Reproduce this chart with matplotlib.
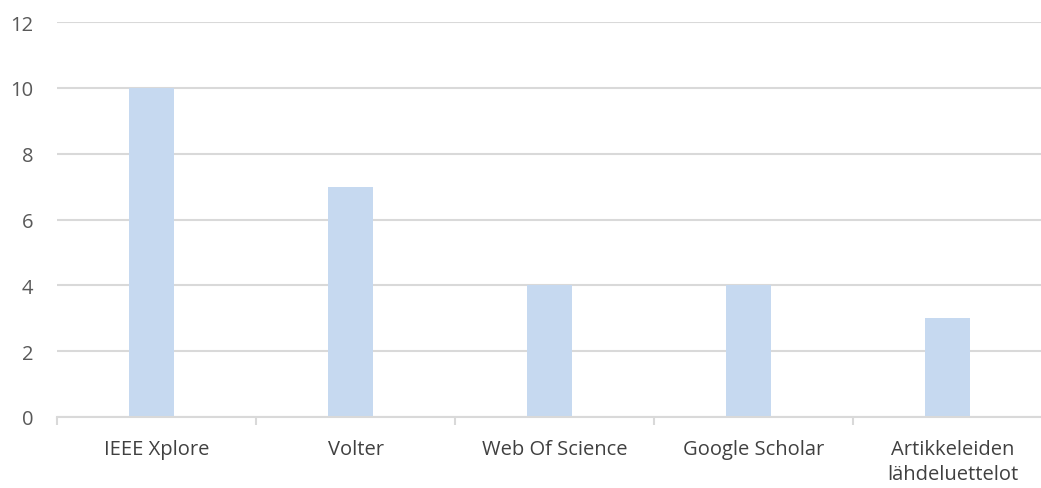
import matplotlib.pyplot as plt
import numpy as np

# categories and counts
categories = ['IEEE Xplore', 'Volter', 'Web Of Science', 'Google Scholar',
              'Artikkeleiden\nlähdeluettelot']
counts = [10, 7, 4, 4, 3]
yticks = [0, 2, 4, 6, 8, 10, 12]

plt.rcParams['font.family'] = ['Open Sans', 'DejaVu Sans']

fig = plt.figure(figsize=(10.41, 4.89), dpi=100)
# right edge runs a bit past the figure, like the cropped original
ax = fig.add_axes([57/1041, 1 - 418/489, 995/1041, (418 - 23)/489])

x = np.arange(len(categories))
# bars sit slightly left of the category centre in the original
ax.bar(x - 0.025, counts, width=0.228, color='#C6D9F0', zorder=2)

ax.set_xlim(-0.5, len(categories) - 0.5)
ax.set_ylim(0, 12)
ax.set_yticks(yticks)
ax.yaxis.grid(True, color='#D9D9D9', linewidth=1.5, zorder=0)
ax.set_axisbelow(True)

for s in ['top', 'right', 'left']:
    ax.spines[s].set_visible(False)
ax.spines['bottom'].set_color('#D9D9D9')
ax.spines['bottom'].set_linewidth(1.5)

# category boundaries get the tick marks, labels sit in the middle
ax.set_xticks(np.arange(len(categories) + 1) - 0.5)
ax.set_xticklabels([])
ax.set_xticks(x, minor=True)
ax.set_xticklabels(categories, minor=True, fontsize=14.5, color='#404040',
                   linespacing=1.3)
ax.tick_params(axis='x', which='major', length=6, color='#D9D9D9', width=1.5)
ax.tick_params(axis='x', which='minor', length=0, pad=16)
ax.tick_params(axis='y', length=0, labelsize=14.5, labelcolor='#595959', pad=17)

fig.savefig('out.png')
